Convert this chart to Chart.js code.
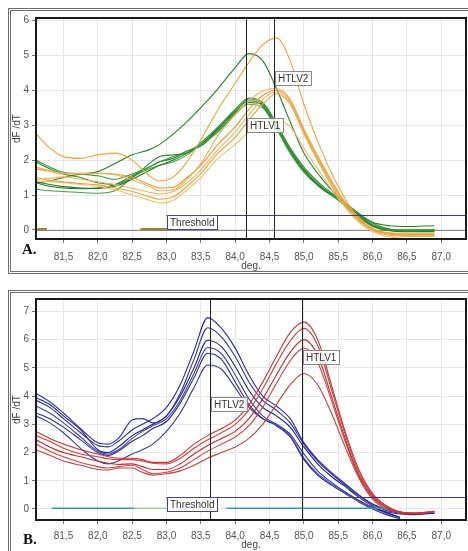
<!DOCTYPE html>
<html>
<head>
<meta charset="utf-8">
<script src="https://cdn.jsdelivr.net/npm/chart.js@4.4.1/dist/chart.umd.min.js"></script>
<style>
body { margin: 0; background: #fff; width: 468px; height: 551px; overflow: hidden; position: relative; }
.frame { position: absolute; left: 8px; width: 480px; border: 3px double #6e6e6e; box-sizing: border-box; }
#frameA { top: 8px; height: 266px; }
#frameB { top: 290px; height: 280px; }
canvas { position: absolute; left: 0; }
.tag { position: absolute; font-family: "Liberation Serif", "Times New Roman", serif; font-weight: bold; font-size: 15px; color: #111; }
</style>
</head>
<body>
<div class="frame" id="frameA"></div>
<div class="frame" id="frameB"></div>
<canvas id="chartA" width="468" height="272" style="top:0"></canvas>
<canvas id="chartB" width="468" height="271" style="top:280px"></canvas>
<div class="tag" style="left:22px;top:241px">A.</div>
<div class="tag" style="left:23px;top:531px">B.</div>
<script>
// x axis (deg.) shared by both panels
const xTicks = [81.5, 82.0, 82.5, 83.0, 83.5, 84.0, 84.5, 85.0, 85.5, 86.0, 86.5, 87.0];
const yTicksA = [0, 1, 2, 3, 4, 5, 6];
const yTicksB = [0, 1, 2, 3, 4, 5, 6, 7];

// panel A : HTLV1 (green) / HTLV2 (orange)
const xsA = [81.1, 81.3, 81.5, 81.75, 82.0, 82.25, 82.5, 82.75, 82.9, 83.1, 83.3, 83.5, 83.75,
             84.0, 84.2, 84.4, 84.6, 84.8, 85.0, 85.25, 85.5, 85.75, 86.0, 86.25, 86.5, 86.9];
const greenA = [
  [1.35, 1.4, 1.5, 1.6, 1.67, 1.9, 2.15, 2.3, 2.45, 2.75, 3.1, 3.5, 4.05, 4.65, 5.05, 4.85, 4.05, 3.1, 2.2, 1.5, 0.95, 0.5, 0.22, 0.12, 0.1, 0.12],
  [2.0, 1.8, 1.65, 1.6, 1.55, 1.45, 1.6, 1.8, 1.95, 2.1, 2.25, 2.45, 2.8, 3.35, 3.75, 3.6, 3.0, 2.3, 1.75, 1.25, 0.9, 0.5, 0.15, 0.0, -0.02, 0.0],
  [1.95, 1.75, 1.6, 1.5, 1.35, 1.3, 1.5, 1.9, 2.1, 2.15, 2.2, 2.5, 2.95, 3.45, 3.78, 3.65, 3.05, 2.35, 1.8, 1.3, 0.92, 0.55, 0.2, 0.02, -0.03, -0.02],
  [1.38, 1.3, 1.24, 1.2, 1.19, 1.25, 1.45, 1.7, 1.85, 2.0, 2.2, 2.45, 2.9, 3.4, 3.7, 3.55, 2.95, 2.25, 1.7, 1.2, 0.88, 0.45, 0.12, -0.02, -0.05, -0.05],
  [1.17, 1.12, 1.1, 1.07, 1.05, 1.12, 1.5, 1.75, 1.85, 1.95, 2.15, 2.45, 2.9, 3.35, 3.6, 3.5, 2.9, 2.2, 1.65, 1.2, 0.85, 0.45, 0.1, 0.0, 0.0, 0.0],
  [1.35, 1.25, 1.2, 1.18, 1.2, 1.3, 1.55, 1.8, 1.95, 2.05, 2.25, 2.4, 2.85, 3.3, 3.65, 3.6, 3.0, 2.3, 1.72, 1.22, 0.9, 0.5, 0.15, 0.02, 0.0, 0.0]
];
const orangeA = [
  [2.75, 2.35, 2.1, 2.05, 2.15, 2.2, 2.0, 1.55, 1.4, 1.52, 1.95, 2.58, 3.45, 4.2, 4.8, 5.3, 5.5, 4.85, 3.6, 2.3, 1.25, 0.45, 0.02, -0.1, -0.15, -0.15],
  [1.8, 1.7, 1.62, 1.62, 1.62, 1.58, 1.43, 1.25, 1.12, 1.15, 1.45, 1.9, 2.7, 3.3, 3.7, 3.98, 4.05, 3.75, 2.9, 1.95, 1.1, 0.45, 0.05, -0.08, -0.1, -0.1],
  [1.75, 1.68, 1.6, 1.6, 1.62, 1.6, 1.5, 1.3, 1.2, 1.22, 1.5, 1.85, 2.45, 2.95, 3.45, 3.85, 4.0, 3.7, 2.85, 1.9, 1.05, 0.4, 0.02, -0.1, -0.12, -0.12],
  [1.45, 1.48, 1.52, 1.45, 1.38, 1.3, 1.19, 1.08, 1.03, 1.1, 1.35, 1.72, 2.3, 2.8, 3.3, 3.75, 3.95, 3.65, 2.8, 1.85, 1.0, 0.38, 0.0, -0.12, -0.15, -0.15],
  [1.5, 1.42, 1.38, 1.33, 1.29, 1.2, 1.1, 0.95, 0.88, 0.95, 1.25, 1.62, 2.2, 2.65, 3.15, 3.6, 3.9, 3.6, 2.75, 1.8, 0.95, 0.35, -0.02, -0.15, -0.18, -0.18],
  [1.4, 1.38, 1.35, 1.3, 1.25, 1.15, 1.0, 0.85, 0.77, 0.85, 1.15, 1.5, 2.05, 2.45, 2.8, 3.05, 3.15, 2.95, 2.35, 1.6, 0.9, 0.3, -0.05, -0.2, -0.25, -0.25]
];
const baseA = [[81.12, 81.26], [82.62, 83.1]];

// panel B : HTLV2 (blue) / HTLV1 (red)
const xsB = [81.1, 81.3, 81.5, 81.75, 82.0, 82.15, 82.3, 82.5, 82.65, 82.8, 83.0, 83.2, 83.4, 83.6, 83.8,
             84.0, 84.2, 84.4, 84.6, 84.8, 85.0, 85.2, 85.4, 85.6, 85.8, 86.0, 86.2, 86.4, 86.6, 86.9];
const blueB = [
  [3.85, 3.6, 3.2, 2.7, 2.25, 2.2, 2.4, 2.8, 3.0, 3.2, 3.6, 4.4, 5.6, 6.78, 6.4, 5.7, 4.75, 4.0, 3.65, 3.2, 2.35, 1.75, 1.3, 0.9, 0.5, 0.18, 0.0, -0.12, -0.17, -0.15],
  [4.1, 3.8, 3.4, 2.85, 2.35, 2.3, 2.5, 3.15, 3.2, 3.05, 3.3, 4.1, 5.3, 6.42, 6.1, 5.4, 4.5, 3.85, 3.5, 3.05, 2.3, 1.7, 1.25, 0.85, 0.48, 0.15, -0.05, -0.15, -0.18, -0.15],
  [3.95, 3.7, 3.3, 2.8, 2.1, 2.0, 2.2, 2.6, 2.8, 3.0, 3.3, 4.0, 5.0, 5.98, 5.75, 5.05, 4.2, 3.6, 3.3, 2.9, 2.2, 1.6, 1.15, 0.8, 0.42, 0.1, -0.12, -0.3, null, null],
  [3.65, 3.4, 3.05, 2.55, 2.05, 1.95, 2.1, 2.5, 2.75, 2.95, 3.2, 3.85, 4.8, 5.72, 5.5, 4.75, 3.9, 3.3, 3.0, 2.6, 1.8, 1.25, 0.9, 0.6, 0.3, 0.05, -0.15, -0.3, null, null],
  [3.4, 3.2, 2.9, 2.45, 2.0, 1.9, 2.05, 2.4, 2.6, 2.85, 3.1, 3.75, 4.65, 5.52, 5.3, 4.5, 3.7, 3.2, 2.95, 2.55, 1.75, 1.2, 0.85, 0.55, 0.25, 0.0, -0.2, -0.35, null, null],
  [3.3, 3.05, 2.7, 2.15, 1.7, 1.6, 1.7, 1.95, 2.1, 2.3, 2.75, 3.4, 4.3, 5.1, 4.95, 4.3, 3.6, 3.2, 3.0, 2.65, 1.95, 1.35, 0.95, 0.6, 0.3, 0.05, -0.1, -0.18, -0.2, -0.15]
];
const redB = [
  [2.75, 2.5, 2.3, 2.1, 1.95, 1.85, 1.8, 1.8, 1.75, 1.65, 1.65, 1.9, 2.3, 2.6, 2.85, 3.15, 3.7, 4.5, 5.4, 6.25, 6.62, 6.0, 4.4, 2.75, 1.4, 0.55, 0.12, -0.1, -0.15, -0.1],
  [2.6, 2.4, 2.15, 1.95, 1.85, 1.78, 1.75, 1.75, 1.7, 1.62, 1.6, 1.8, 2.15, 2.45, 2.7, 3.0, 3.5, 4.25, 5.15, 5.95, 6.4, 5.8, 4.25, 2.65, 1.3, 0.5, 0.1, -0.12, -0.15, -0.1],
  [2.45, 2.2, 2.0, 1.85, 1.7, 1.62, 1.58, 1.6, 1.5, 1.4, 1.4, 1.6, 1.95, 2.25, 2.5, 2.75, 3.2, 3.9, 4.75, 5.55, 6.0, 5.45, 4.0, 2.5, 1.2, 0.45, 0.05, -0.12, -0.15, -0.1],
  [2.3, 2.05, 1.85, 1.65, 1.5, 1.45, 1.5, 1.55, 1.4, 1.25, 1.3, 1.45, 1.75, 2.05, 2.3, 2.55, 2.95, 3.6, 4.45, 5.25, 5.7, 5.2, 3.85, 2.4, 1.15, 0.4, 0.05, -0.12, -0.15, -0.1],
  [2.1, 1.9, 1.7, 1.55, 1.4, 1.38, 1.45, 1.45, 1.3, 1.2, 1.25, 1.35, 1.55, 1.8, 2.0, 2.2, 2.5, 3.0, 3.7, 4.4, 4.8, 4.4, 3.4, 2.2, 1.1, 0.35, 0.0, -0.12, -0.15, -0.1]
];
const tealB = [[81.33, 82.53], [83.87, 86.2]];
const paleB = [[82.53, 83.0]];

// marker lines, threshold and labels
const markA = [84.16, 84.56];
const markB = [83.64, 84.97];
const tagsA = [{ text: 'HTLV2', mark: 1, y: 4.56 }, { text: 'HTLV1', mark: 0, y: 3.21 }];
const tagsB = [{ text: 'HTLV1', mark: 1, y: 5.64 }, { text: 'HTLV2', mark: 0, y: 3.97 }];

const greenCols = ['#2a7f2a', '#3a9a3a', '#2f8a2f', '#1f7a1f', '#45a045', '#267a26'];
const orangeCols = ['#e8a640', '#eab25a', '#e89a30', '#efb660', '#e4a444', '#f0c070'];
const blueCols = ['#2a2a96', '#34349e', '#20208c', '#4444a6', '#2c2c92', '#3a3a9c'];
const redCols = ['#c83434', '#d04040', '#c02c2c', '#c84848', '#bc4444'];

const labelFont = { family: '"Liberation Sans", Arial, sans-serif', size: 10 };

function curves(xs, rows, cols) {
  return rows.map((row, i) => ({
    data: row.map((v, j) => ({ x: xs[j], y: v })).filter(p => p.y !== null),
    borderColor: cols[i], borderWidth: 1.1, pointRadius: 0,
    cubicInterpolationMode: 'monotone', fill: false
  }));
}

function segments(list, level, color, width) {
  return list.map(s => ({
    data: [{ x: s[0], y: level }, { x: s[1], y: level }],
    borderColor: color, borderWidth: width, pointRadius: 0, tension: 0
  }));
}

function drawBox(ctx, text, left, top, edge) {
  const w = Math.round(ctx.measureText(text).width) + 6, h = 14;
  left = Math.round(left); top = Math.round(top);
  ctx.fillStyle = 'rgba(255,255,255,0.8)';
  ctx.fillRect(left, top, w, h);
  ctx.strokeStyle = edge; ctx.lineWidth = 1;
  ctx.strokeRect(left + 0.5, top + 0.5, w, h);
  ctx.fillStyle = '#333';
  ctx.textBaseline = 'middle';
  ctx.textAlign = 'left';
  ctx.fillText(text, left + 3, top + h / 2 + 1);
}

function overlay(o) {
  return {
    id: 'overlay',
    beforeDatasetsDraw(chart) {
      const { ctx, chartArea: a, scales: { y } } = chart;
      if (!o.zeroLine) return;
      const zy = Math.round(y.getPixelForValue(0)) + 0.5;
      ctx.save();
      ctx.strokeStyle = '#8c8c8c'; ctx.lineWidth = 1;
      ctx.beginPath(); ctx.moveTo(a.left, zy); ctx.lineTo(a.right, zy); ctx.stroke();
      ctx.restore();
    },
    afterDatasetsDraw(chart) {
      const { ctx, chartArea: a, scales: { x, y } } = chart;
      ctx.save();
      ctx.beginPath(); ctx.rect(a.left, a.top, a.width, a.height); ctx.clip();
      ctx.strokeStyle = '#222'; ctx.lineWidth = 1;
      o.marks.forEach(m => {
        const px = Math.round(x.getPixelForValue(m)) + 0.5;
        ctx.beginPath(); ctx.moveTo(px, a.top); ctx.lineTo(px, a.bottom); ctx.stroke();
      });
      const ty = Math.round(y.getPixelForValue(o.threshold));
      const tx = x.getPixelForValue(83.0);
      ctx.strokeStyle = '#3b3b8a';
      ctx.beginPath(); ctx.moveTo(tx, ty + 0.5); ctx.lineTo(a.right, ty + 0.5); ctx.stroke();
      ctx.font = '10px "Liberation Sans", Arial, sans-serif';
      drawBox(ctx, 'Threshold', tx, ty, '#4a4a7a');
      o.tags.forEach(t => drawBox(ctx, t.text, x.getPixelForValue(o.marks[t.mark]) + 1, y.getPixelForValue(t.y), '#8a8a8a'));
      ctx.restore();
      ctx.strokeStyle = '#1a1a1a'; ctx.lineWidth = 2;
      ctx.strokeRect(a.left, a.top, a.width, a.height);
    }
  };
}

function makeChart(id, o) {
  return new Chart(document.getElementById(id), {
    type: 'line',
    data: { datasets: o.datasets },
    options: {
      responsive: false,
      animation: false,
      layout: { padding: { top: o.padTop, right: 2, left: 0, bottom: 0 } },
      plugins: { legend: { display: false }, tooltip: { enabled: false } },
      scales: {
        x: {
          type: 'linear', min: 81.1, max: 87.36,
          afterBuildTicks: s => { s.ticks = xTicks.map(v => ({ value: v })); },
          afterFit: s => { s.height = o.xHeight; },
          ticks: { font: labelFont, color: '#555', padding: o.xPad, maxRotation: 0,
                   callback: v => v.toFixed(1).replace('.', ',') },
          grid: { color: '#e6e6e6', tickColor: '#777', tickLength: 4 },
          border: { display: false },
          title: { display: true, text: 'deg.', font: labelFont, color: '#444', padding: 0 }
        },
        y: {
          type: 'linear', min: o.yMin, max: o.yMax,
          afterBuildTicks: s => { s.ticks = o.yTicks.map(v => ({ value: v })); },
          afterFit: s => { s.width = 36; },
          ticks: { font: labelFont, color: '#555', padding: 3 },
          grid: { color: '#e6e6e6', tickColor: '#777', tickLength: 4 },
          border: { display: false },
          title: { display: true, text: 'dF /dT', font: labelFont, color: '#444', padding: { top: 11, bottom: 0 } }
        }
      }
    },
    plugins: [overlay(o)]
  });
}

makeChart('chartA', {
  datasets: segments(baseA, 0.02, '#9a8448', 2.5)
    .concat(curves(xsA, orangeA, orangeCols))
    .concat(curves(xsA, greenA, greenCols)),
  padTop: 18, xHeight: 33, xPad: 8,
  yMin: -0.26, yMax: 6.07, yTicks: yTicksA,
  zeroLine: true, threshold: 0.43,
  marks: markA, tags: tagsA
});

makeChart('chartB', {
  datasets: segments(tealB, 0.03, '#3c9c9c', 1.5)
    .concat(segments(paleB, 0.03, '#a6cf9c', 1.5))
    .concat(curves(xsB, redB, redCols))
    .concat(curves(xsB, blueB, blueCols)),
  padTop: 19, xHeight: 31, xPad: 6,
  yMin: -0.39, yMax: 7.44, yTicks: yTicksB,
  zeroLine: false, threshold: 0.42,
  marks: markB, tags: tagsB
});
</script>
</body>
</html>
